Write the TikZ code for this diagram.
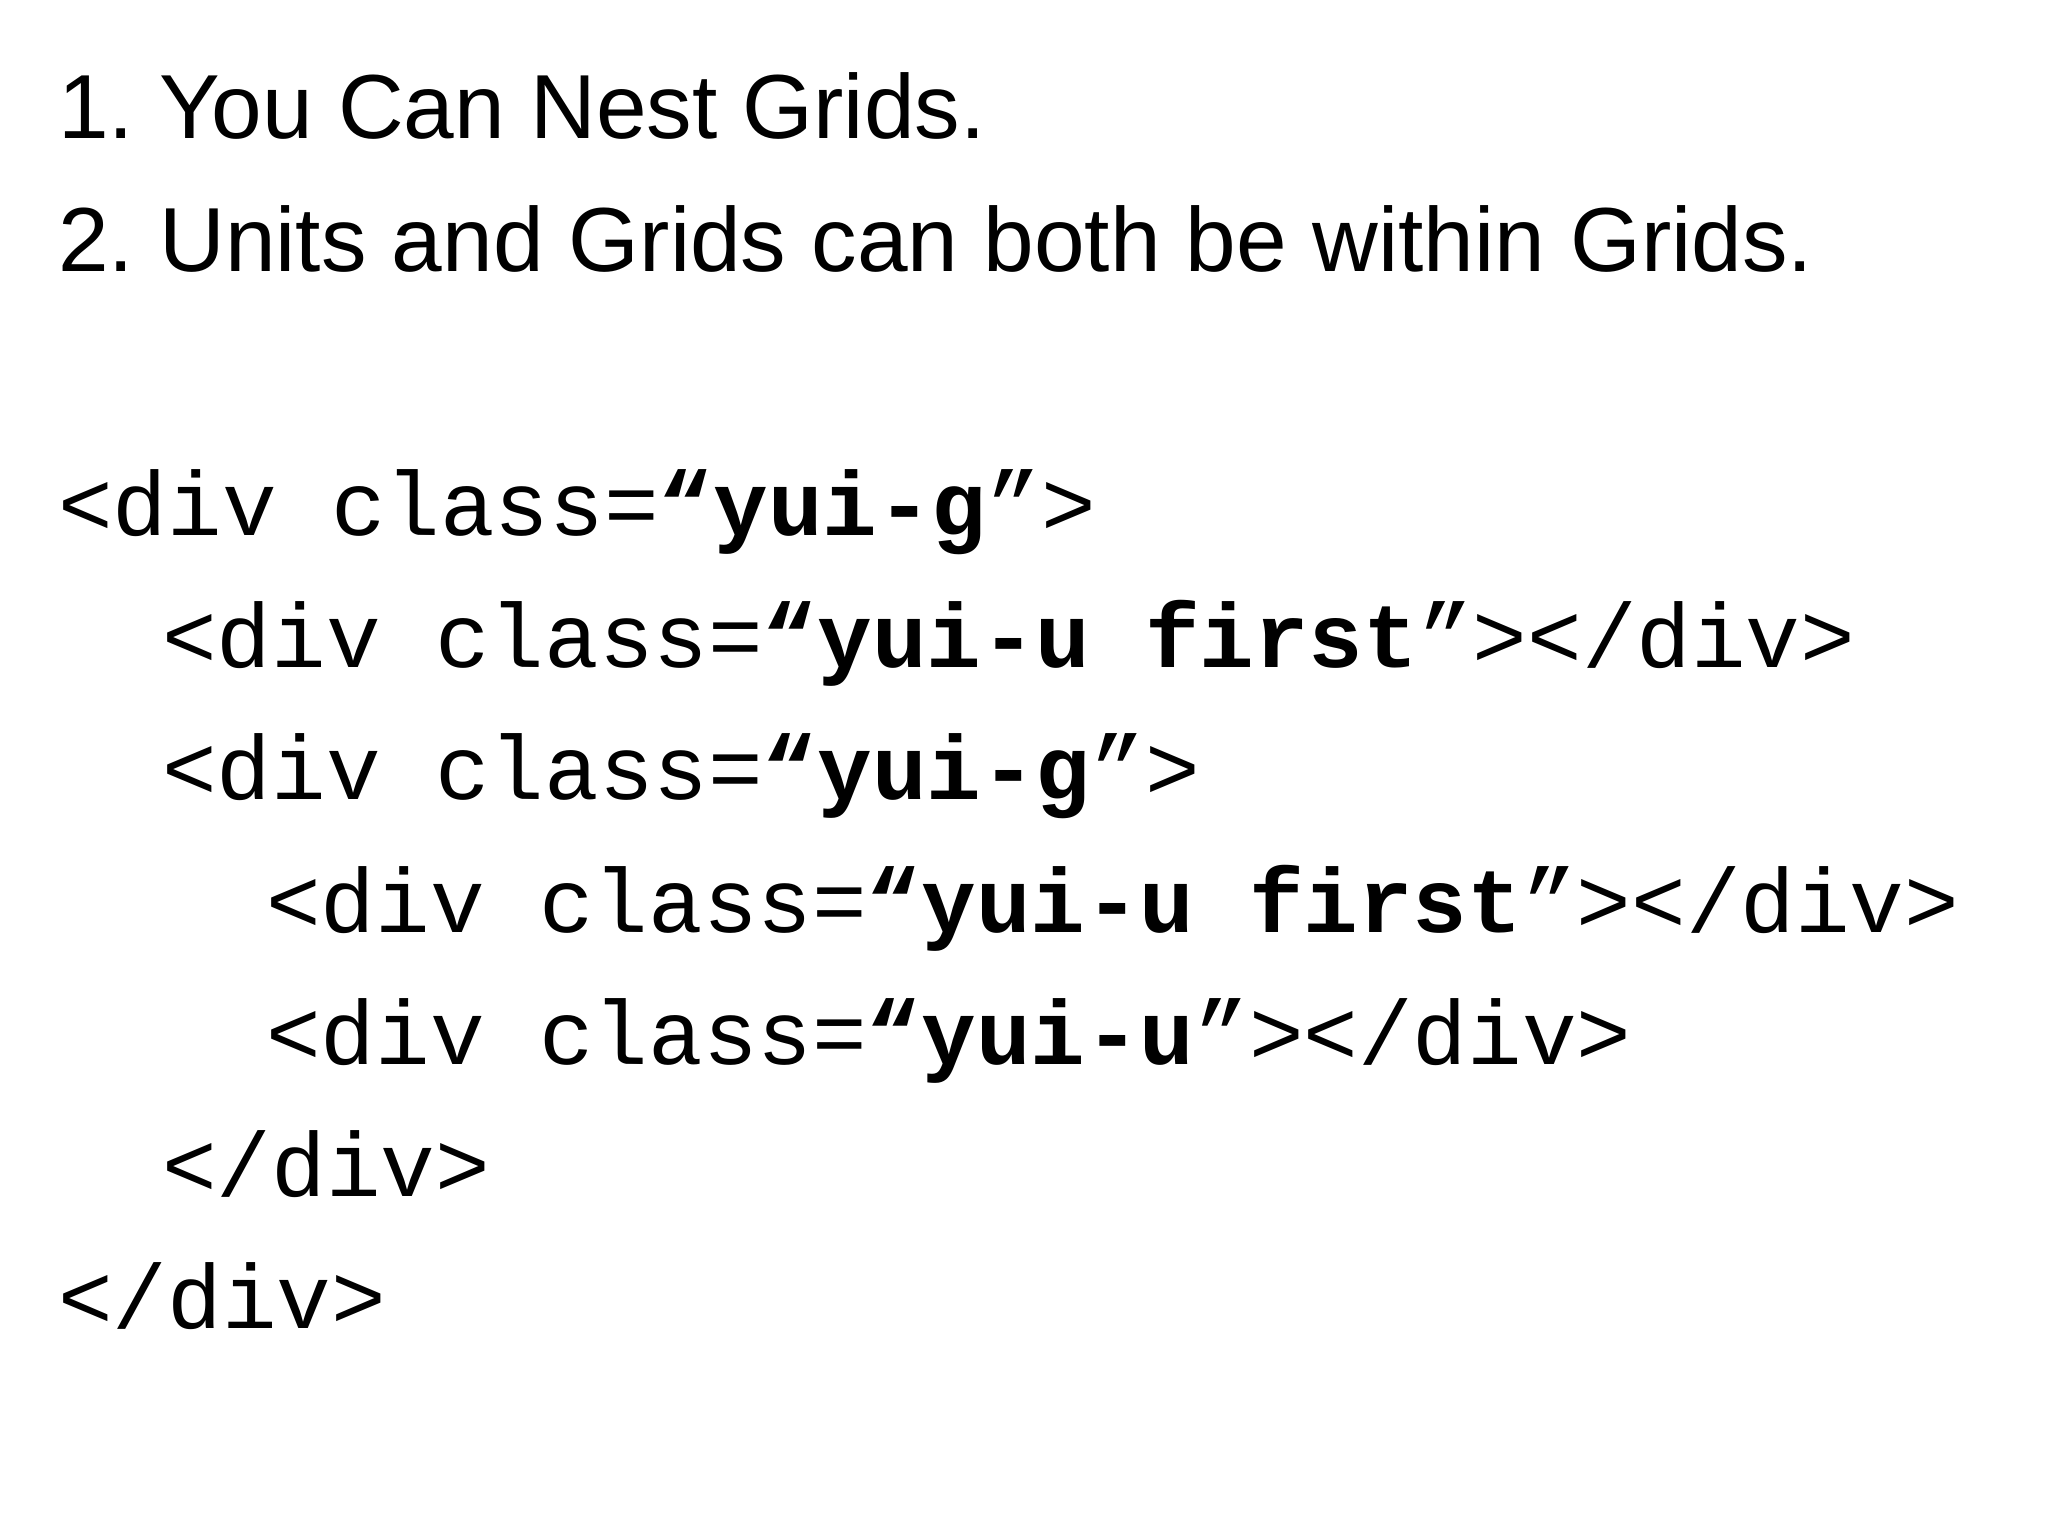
\documentclass[tikz,border=0pt]{standalone}
\usepackage{fontspec}
\setmainfont{Liberation Sans}
\setmonofont{Liberation Mono}
\frenchspacing
\begin{document}
\begin{tikzpicture}[x=1pt,y=1pt,
  head/.style={anchor=base west,inner sep=0pt,font=\fontsize{91}{91}\selectfont},
  code/.style={anchor=base west,inner sep=0pt,font=\ttfamily\fontsize{91}{91}\selectfont}]
\fill[white] (0,0) rectangle (2048,-1536);
\useasboundingbox (0,0) rectangle (2048,-1536);
\node[head] (h1) at (58,-139) {1. You Can Nest Grids.};
\node[head] (h2) at (58,-271) {2. Units and Grids can both be within Grids.};
\node[code] (c1) at (58,-535) {<div class=\textbf{“yui-g}”>};
\node[code] (c2) at (162,-667) {<div class=\textbf{“yui-u first}”></div>};
\node[code] (c3) at (162,-799) {<div class=\textbf{“yui-g}”>};
\node[code] (c4) at (266,-932) {<div class=\textbf{“yui-u first}”></div>};
\node[code] (c5) at (266,-1064) {<div class=\textbf{“yui-u}”></div>};
\node[code] (c6) at (162,-1196) {</div>};
\node[code] (c7) at (58,-1328) {</div>};
\end{tikzpicture}
\end{document}
